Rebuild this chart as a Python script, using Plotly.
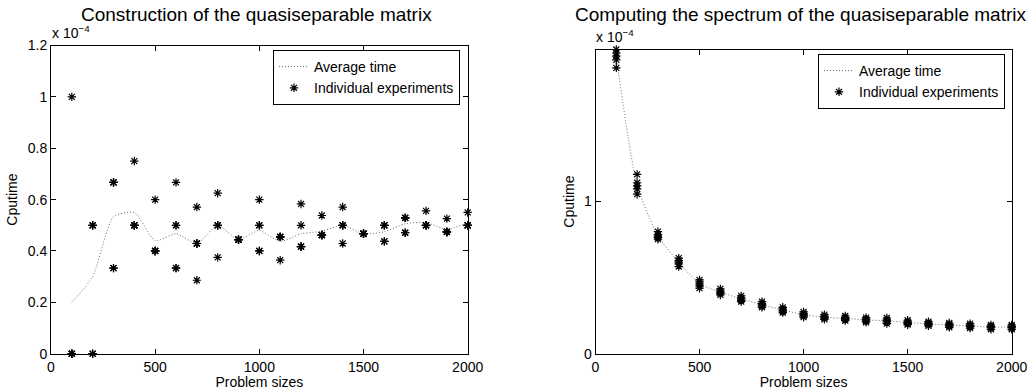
import plotly.graph_objects as go

W, H = 1030, 392

# ---------------- data (values in units of 1e-4 s) ----------------
sizes = [100, 200, 300, 400, 500, 600, 700, 800, 900, 1000,
         1100, 1200, 1300, 1400, 1500, 1600, 1700, 1800, 1900, 2000]

# Construction of the quasiseparable matrix: 5 experiments per size
constr_exp1 = [1.000, 0.500, 0.667, 0.750, 0.600, 0.667, 0.571, 0.625, 0.444, 0.600,
               0.455, 0.583, 0.538, 0.571, 0.467, 0.500, 0.529, 0.556, 0.526, 0.550]
constr_exp2 = [0.000, 0.500, 0.667, 0.500, 0.400, 0.500, 0.429, 0.500, 0.444, 0.500,
               0.455, 0.500, 0.462, 0.500, 0.467, 0.500, 0.529, 0.500, 0.474, 0.500]
constr_exp3 = [0.000, 0.500, 0.667, 0.500, 0.400, 0.500, 0.429, 0.500, 0.444, 0.500,
               0.455, 0.417, 0.462, 0.500, 0.467, 0.500, 0.529, 0.500, 0.474, 0.500]
constr_exp4 = [0.000, 0.000, 0.333, 0.500, 0.400, 0.333, 0.429, 0.500, 0.444, 0.400,
               0.455, 0.417, 0.462, 0.500, 0.467, 0.4375, 0.471, 0.500, 0.474, 0.500]
constr_exp5 = [0.000, 0.000, 0.333, 0.500, 0.400, 0.333, 0.286, 0.375, 0.444, 0.400,
               0.364, 0.417, 0.462, 0.429, 0.467, 0.4375, 0.471, 0.500, 0.474, 0.500]
constr_avg = [0.200, 0.300, 0.533, 0.550, 0.440, 0.467, 0.429, 0.500, 0.444, 0.480,
              0.437, 0.467, 0.477, 0.500, 0.467, 0.475, 0.506, 0.511, 0.484, 0.510]

# Computing the spectrum of the quasiseparable matrix: 5 experiments per size
spec_exp1 = [1.993, 1.175, 0.800, 0.626, 0.484, 0.425, 0.379, 0.341, 0.304, 0.274,
             0.256, 0.247, 0.236, 0.234, 0.219, 0.210, 0.201, 0.197, 0.188, 0.188]
spec_exp2 = [1.970, 1.120, 0.780, 0.610, 0.470, 0.412, 0.366, 0.328, 0.292, 0.262,
             0.245, 0.236, 0.226, 0.222, 0.209, 0.201, 0.192, 0.187, 0.179, 0.179]
spec_exp3 = [1.950, 1.100, 0.770, 0.600, 0.458, 0.404, 0.359, 0.322, 0.286, 0.255,
             0.240, 0.232, 0.221, 0.216, 0.204, 0.196, 0.187, 0.182, 0.175, 0.175]
spec_exp4 = [1.925, 1.080, 0.760, 0.588, 0.445, 0.395, 0.350, 0.313, 0.278, 0.248,
             0.233, 0.225, 0.214, 0.209, 0.198, 0.190, 0.181, 0.177, 0.170, 0.170]
spec_exp5 = [1.873, 1.045, 0.750, 0.571, 0.429, 0.385, 0.341, 0.304, 0.269, 0.239,
             0.225, 0.217, 0.206, 0.197, 0.190, 0.182, 0.173, 0.168, 0.160, 0.160]
spec_avg = [1.942, 1.104, 0.772, 0.599, 0.457, 0.404, 0.359, 0.322, 0.286, 0.256,
            0.240, 0.231, 0.221, 0.216, 0.204, 0.196, 0.187, 0.182, 0.174, 0.174]

x_ticks = [0, 500, 1000, 1500, 2000]
left_y_ticks = [0, 0.2, 0.4, 0.6, 0.8, 1.0, 1.2]
left_y_labels = ["0", "0.2", "0.4", "0.6", "0.8", "1", "1.2"]
right_y_ticks = [0, 1]
right_y_labels = ["0", "1"]

titles = ["Construction of the quasiseparable matrix",
          "Computing the spectrum of the quasiseparable matrix"]

# ---------------- figure ----------------
FONT = "Liberation Sans, Arial, Helvetica, sans-serif"
fig = go.Figure()

def add_panel(exps, avg, xa, ya, legend):
    fig.add_trace(go.Scatter(
        x=sizes, y=avg, mode="lines", name="Average time",
        line=dict(color="#6a6a6a", width=1, dash="1px,2px", shape="spline", smoothing=0.6),
        xaxis=xa, yaxis=ya, legend=legend))
    first = True
    for e in exps:
        fig.add_trace(go.Scatter(
            x=sizes, y=e, mode="markers", name="Individual experiments",
            marker=dict(symbol="asterisk-open", size=7, color="black",
                        line=dict(color="black", width=1.2)),
            xaxis=xa, yaxis=ya, legend=legend, showlegend=first,
            cliponaxis=False))
        first = False

add_panel([constr_exp1, constr_exp2, constr_exp3, constr_exp4, constr_exp5],
          constr_avg, "x", "y", "legend")
add_panel([spec_exp1, spec_exp2, spec_exp3, spec_exp4, spec_exp5],
          spec_avg, "x2", "y2", "legend2")

axis_common = dict(showgrid=False, zeroline=False, showline=True, linecolor="black",
                   linewidth=1, mirror="ticks", ticks="inside", ticklen=5,
                   tickcolor="black", automargin=False,
                   tickfont=dict(family=FONT, size=14, color="black"))

ytop_l = 1 - 45.5 / H
ytop_r = 1 - 49.5 / H
ybot = 1 - 353.7 / H

fig.update_layout(
    width=W, height=H,
    margin=dict(l=0, r=0, t=0, b=0),
    paper_bgcolor="white", plot_bgcolor="white",
    font=dict(family=FONT, size=14, color="black"),
    xaxis=dict(domain=[51 / W, 467.7 / W], range=[0, 2000], tickvals=x_ticks,
               title=dict(text="Problem sizes", font=dict(size=14), standoff=2),
               anchor="y", **axis_common),
    yaxis=dict(domain=[ybot, ytop_l], range=[0, 1.2], tickvals=left_y_ticks,
               ticktext=left_y_labels,
               title=dict(text="Cputime", font=dict(size=14), standoff=6),
               anchor="x", **axis_common),
    xaxis2=dict(domain=[595.5 / W, 1011.7 / W], range=[0, 2000], tickvals=x_ticks,
                title=dict(text="Problem sizes", font=dict(size=14), standoff=2),
                anchor="y2", **axis_common),
    yaxis2=dict(domain=[ybot, ytop_r], range=[0, 1.993], tickvals=right_y_ticks,
                ticktext=right_y_labels,
                title=dict(text="Cputime", font=dict(size=14), standoff=5),
                anchor="x2", **axis_common),
    legend=dict(x=460 / W, y=1 - 50 / H, xanchor="right", yanchor="top",
                bgcolor="white", bordercolor="black", borderwidth=1,
                font=dict(family=FONT, size=14), tracegroupgap=0,
                itemwidth=30),
    legend2=dict(x=1005 / W, y=1 - 54 / H, xanchor="right", yanchor="top",
                 bgcolor="white", bordercolor="black", borderwidth=1,
                 font=dict(family=FONT, size=14), tracegroupgap=0,
                 itemwidth=30),
    showlegend=True,
)

# titles
fig.add_annotation(text=titles[0], x=256 / W, y=1 - 15 / H, xref="paper", yref="paper",
                   xanchor="center", yanchor="middle", showarrow=False,
                   font=dict(family=FONT, size=19, color="black"))
fig.add_annotation(text=titles[1], x=800 / W, y=1 - 15 / H, xref="paper", yref="paper",
                   xanchor="center", yanchor="middle", showarrow=False,
                   font=dict(family=FONT, size=19, color="black"))

# exponent labels
fig.add_annotation(text="x 10<sup>−4</sup>", x=50 / W, y=1 - 43 / H, xref="paper", yref="paper",
                   xanchor="left", yanchor="bottom", showarrow=False,
                   font=dict(family=FONT, size=14, color="black"))
fig.add_annotation(text="x 10<sup>−4</sup>", x=594 / W, y=1 - 47 / H, xref="paper", yref="paper",
                   xanchor="left", yanchor="bottom", showarrow=False,
                   font=dict(family=FONT, size=14, color="black"))

fig.write_html("out.html", config={"displayModeBar": False},
               post_script="document.body.style.margin='0';")
